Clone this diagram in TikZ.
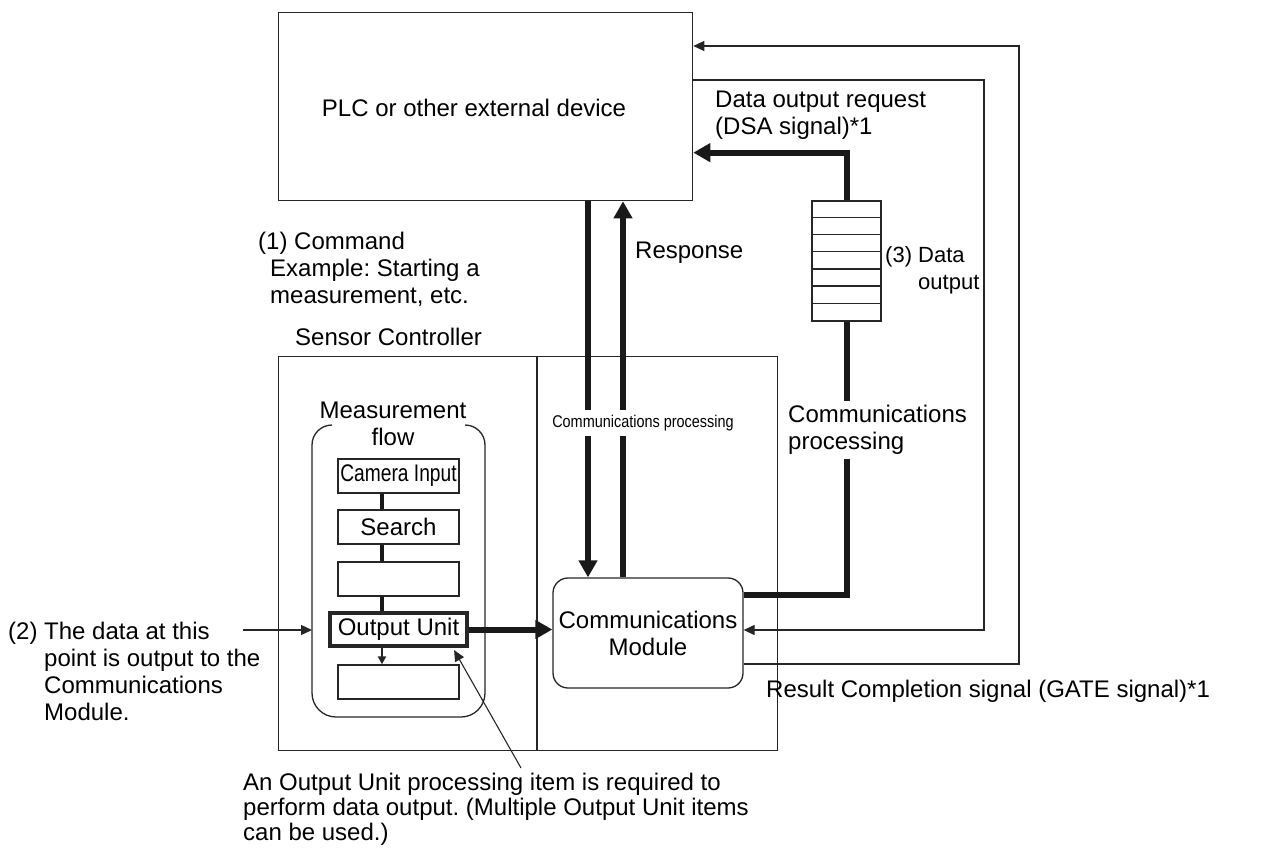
\documentclass[tikz,border=0pt]{standalone}
\usepackage{fontspec}
\setmainfont{Liberation Sans}
\usepackage{graphicx}
\usetikzlibrary{arrows.meta}
\frenchspacing
\begin{document}
\begin{tikzpicture}[x=1pt,y=-1pt,
  font=\fontsize{24}{27}\selectfont\frenchspacing,
  thinline/.style={line width=1.3pt, draw=black!85},
  thickline/.style={line width=6pt, draw=black!90},
  flowline/.style={line width=3.2pt, draw=black!90},
  bigtip/.style={-{Triangle[length=17pt,width=18pt]}},
  smalltip/.style={-{Triangle[length=11pt,width=10pt]}},
  tinytip/.style={-{Triangle[length=8pt,width=8pt]}},
  blockbox/.style={draw=black!85, line width=1.3pt, inner sep=0pt, align=center},
  flowbox/.style={blockbox, minimum width=121pt, minimum height=34pt},
  txt/.style={inner sep=0pt, align=left, anchor=north west},
  cover/.style={fill=white, inner xsep=2pt, inner ysep=5pt, align=left}
]
\useasboundingbox (0,0) rectangle (1262,854);

% PLC
\node[blockbox, anchor=north west, minimum width=414pt, minimum height=188pt] (plc) at (278,12) {};
\node[inner sep=0pt] (plctext) at (474,108) {PLC or other external device};

% Sensor controller
\node[blockbox, anchor=north west, minimum width=499pt, minimum height=394pt] (sc) at (278,356) {};
\coordinate (divtop) at (537,356);
\coordinate (divbot) at (537,750);
\draw[thinline] (divtop) -- (divbot);

% Measurement flow outline
\draw[thinline] (332,425) arc[start angle=270,end angle=180,radius=20]
  -- (312,693) arc[start angle=180,end angle=90,radius=24]
  -- (461,717) arc[start angle=90,end angle=0,radius=24]
  -- (485,445) arc[start angle=0,end angle=-90,radius=20];
\coordinate (flowleft) at (312,630);

% flow boxes
\node[flowbox] (cam) at (398.5,476) {\scalebox{0.8}[1]{Camera Input}};
\node[flowbox] (search) at (398.5,527) {Search};
\node[flowbox] (blank1) at (398.5,579) {};
\node[flowbox, line width=4.2pt, minimum width=137pt, minimum height=33pt] (out) at (398.5,629.5) {Output Unit};
\node[flowbox] (blank2) at (398.5,682) {};
\coordinate (xc) at (382,0);
\draw[flowline] (cam.south -| xc) -- (search.north -| xc);
\draw[flowline] (search.south -| xc) -- (blank1.north -| xc);
\draw[flowline] (blank1.south -| xc) -- (out.north -| xc);
\draw[thinline, line width=2pt, tinytip] (out.south -| xc) -- (blank2.north -| xc);

% Communications module
\node[blockbox, rounded corners=15pt, minimum width=190pt, minimum height=110pt] (comm) at (648,633) {Communications\\Module};

% stack
\node[blockbox, minimum width=69pt, minimum height=120pt] (stack) at (846.5,261) {};
\foreach \i in {1,...,6} {
  \draw[thinline] ([yshift={-\i*120/7*1pt}]stack.north west) -- ([yshift={-\i*120/7*1pt}]stack.north east);
}

% thick connectors
\draw[thickline, bigtip] (out.east) -- (out.east -| comm.west);
\coordinate (cmdx) at (588,0);
\coordinate (respx) at (623,0);
\draw[thickline, bigtip] (plc.south -| cmdx) -- (comm.north -| cmdx);
\draw[thickline, bigtip] (comm.north -| respx) -- (plc.south -| respx);
\draw[thickline] ([yshift=38pt]comm.east) -| (stack.south);
\draw[thickline, bigtip] (stack.north) |- ([yshift=-46pt]plc.east);

% thin signal lines
\coordinate (gate) at (1019,46);
\coordinate (dsa) at (984,80);
\draw[thinline, smalltip] ([yshift=-31pt]comm.east) -| (gate) -- (gate -| plc.east);
\draw[thinline, smalltip] (dsa -| plc.east) -- (dsa) |- ([yshift=3pt]comm.east);

% annotation arrows
\coordinate (p2) at (243,630);
\draw[thinline, smalltip] (p2) -- (flowleft);
\coordinate (ann) at (521,768);
\draw[thinline, line width=1.1pt, smalltip] (ann) -- ([xshift=-15pt,yshift=-2pt]out.south east);

% covering labels on lines
\node[cover, font=\fontsize{17}{20}\selectfont] (cpl) at (643,423) {\scalebox{0.85}[1]{Communications processing}};
\node[cover, anchor=north west, inner xsep=0pt, inner ysep=4pt] (cpr) at (788,401) {Communications\\processing};

% texts
\node[txt] (dsatext) at (715,91) {Data output request\\(DSA signal)*1};
\node[txt, font=\fontsize{22}{27}\selectfont] (dotext) at (885,243) {\begin{tabular}{@{}l@{ }l@{}}(3)&Data\\&output\end{tabular}};
\node[txt] (resp) at (635,242) {Response};
\node[txt] (cmd) at (258,232) {(1) Command\\\hspace{12pt}Example: Starting a\\\hspace{12pt}measurement, etc.};
\node[txt] (sctext) at (295,328) {Sensor Controller};
\node[inner sep=0pt, align=center] (mftext) at (393,424) {Measurement\\flow};
\node[txt] (gatetext) at (766,680) {Result Completion signal (GATE signal)*1};
\node[txt] (p2text) at (8,620) {\begin{tabular}{@{}l@{ }l@{}}(2)&The data at this\\&point is output to the\\&Communications\\&Module.\end{tabular}};
\node[txt, font=\fontsize{24}{25}\selectfont] (anntext) at (243,773) {An Output Unit processing item is required to\\perform data output. (Multiple Output Unit items\\can be used.)};
\end{tikzpicture}
\end{document}
